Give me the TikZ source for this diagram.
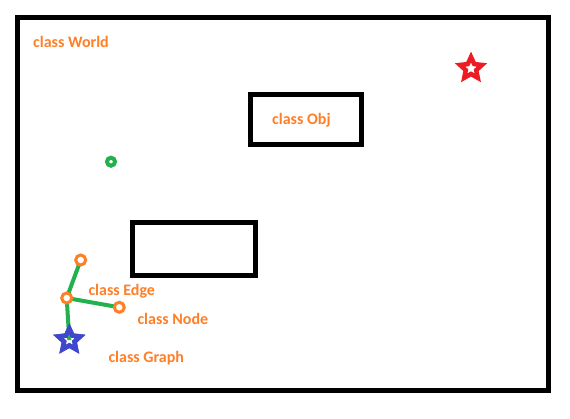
\documentclass[tikz,border=0pt]{standalone}
\usepackage{fontspec}
\setmainfont{Carlito}
\usetikzlibrary{shapes.geometric}
\definecolor{porange}{HTML}{FF7F27}
\definecolor{pgreen}{HTML}{22B14C}
\definecolor{pblue}{HTML}{3F48CC}
\definecolor{pred}{HTML}{ED1C24}
\begin{document}
\begin{tikzpicture}[x=1pt,y=-1pt,
 lbl/.style={font=\bfseries\fontsize{16}{19}\selectfont, text=porange, anchor=base west, inner sep=0pt},
 box/.style={draw=black, line width=5pt, rectangle, inner sep=0pt},
 vert/.style={circle, draw=porange, fill=white, line width=3pt, minimum size=10pt, inner sep=0pt},
 link/.style={draw=pgreen, line width=4pt},
 starshape/.style={star, star points=5, star point ratio=2.1, draw=#1, line width=4.5pt, minimum size=23pt, inner sep=0pt, line join=miter}]
\useasboundingbox[fill=white] (0,0) rectangle (570,419);
\node[box, minimum width=531.5pt, minimum height=373pt] (world) at (282.75,204) {};
\node[box, minimum width=111pt, minimum height=50.5pt] (obj) at (306,119.75) {};
\node[box, minimum width=122.5pt, minimum height=53.5pt] (rect) at (193.75,249.25) {};
\node[circle, draw=pgreen, line width=4pt, minimum size=8pt, inner sep=0pt] (dot) at (111,161.7) {};
\node[starshape=pred] (redstar) at (471,68.5) {};
\node[starshape=pblue] (bluestar) at (69.3,340) {};
\coordinate (ctop) at (80.7,260);
\coordinate (cmid) at (66.7,298);
\coordinate (cright) at (119.3,307.3);
\draw[link] (ctop) -- (cmid);
\draw[link] (cmid) -- (cright);
\draw[link] (cmid) -- (bluestar.center);
\node[starshape=pblue] at (bluestar) {};
\node[vert] (top) at (ctop) {};
\node[vert] (mid) at (cmid) {};
\node[vert] (right) at (cright) {};
\node[lbl] (tworld) at (33,47.5) {class World};
\node[lbl] (tobj) at (272,125) {class Obj};
\node[lbl] (tedge) at (88.3,295.5) {class Edge};
\node[lbl] (tnode) at (137.3,324.5) {class Node};
\node[lbl] (tgraph) at (108.3,362.3) {class Graph};
\end{tikzpicture}
\end{document}
